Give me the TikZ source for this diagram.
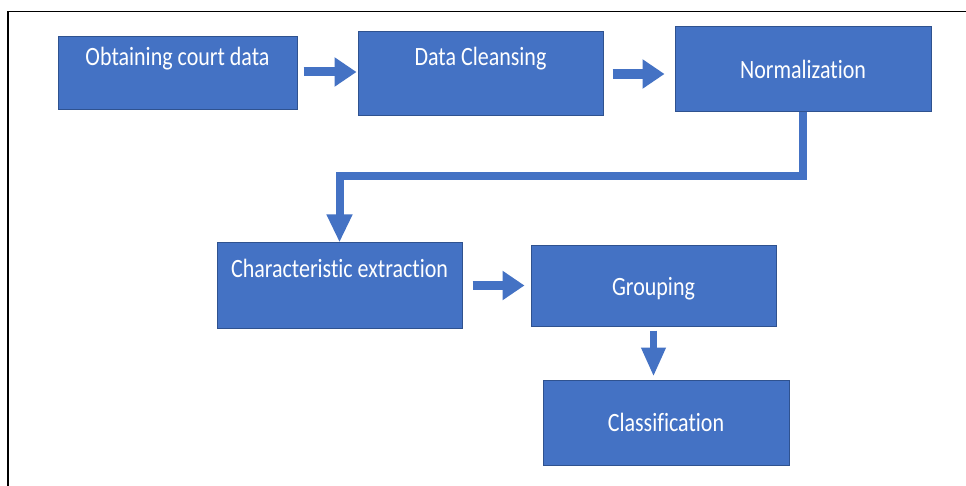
\documentclass[tikz,border=0pt]{standalone}
\usepackage{fontspec}
\setmainfont{Carlito}[Ligatures=NoCommon]
\usetikzlibrary{arrows.meta,calc}
\definecolor{boxblue}{HTML}{4472C4}
\definecolor{boxedge}{HTML}{2F528F}
\tikzset{
  stepbox/.style={draw=boxedge, line width=1pt, fill=boxblue, inner sep=0pt},
  txt/.style={anchor=base, text=white, inner sep=0pt, font=\fontsize{22}{26}\selectfont},
  frameline/.style={draw=black, line width=1.6pt},
  conn/.style={draw=boxblue, line cap=butt, line join=miter},
}
\newcommand{\tx}[1]{\scalebox{1}[1.2]{#1}}
\begin{document}
\begin{tikzpicture}[x=1pt,y=-1pt]
\useasboundingbox (0,0) rectangle (966,486);
\fill[white] (0,0) rectangle (966,486);
% frame
\draw[frameline] (8,486) -- (8,11.5) -- (966,11.5);
% boxes
\node[stepbox, minimum width=239pt, minimum height=73pt] (b1) at (177.5,73.5) {};
\node[stepbox, minimum width=245pt, minimum height=84pt] (b2) at (480.5,74) {};
\node[stepbox, minimum width=256pt, minimum height=85pt] (b3) at (803,69.5) {};
\node[stepbox, minimum width=245pt, minimum height=85pt] (b4) at (339.5,285.5) {};
\node[stepbox, minimum width=245pt, minimum height=80pt] (b5) at (653.5,286) {};
\node[stepbox, minimum width=246pt, minimum height=85pt] (b6) at (666,422.5) {};
% texts
\node[txt] (t1) at ($(b1.center)+(0,-7.5)$) {\tx{Obtaining court data}};
\node[txt] (t2) at ($(b2.center)+(0,-8)$) {\tx{Data Cleansing}};
\node[txt] (t3) at ($(b3.center)+(0,9.5)$) {\tx{Normalization}};
\node[txt] (t4) at ($(b4.center)+(0,-7.5)$) {\tx{Characteristic extraction}};
\node[txt] (t5) at ($(b5.center)+(0,9)$) {\tx{Grouping}};
\node[txt] (t6) at ($(b6.center)+(0,8.5)$) {\tx{Classification}};
% arrows
\draw[conn, line width=9pt, -{Triangle[width=28pt,length=22pt]}, shorten <=6pt, shorten >=1pt]
  ($(b1.east)+(0,-1.5)$) -- ($(b2.west |- b1.east)+(0,-1.5)$);
\draw[conn, line width=10pt, -{Triangle[width=28pt,length=22pt]}, shorten <=9pt, shorten >=10pt]
  (b2.east) -- (b2.east -| b3.west);
\coordinate (mid) at ($(b4.north)+(0,-66)$);
\draw[conn, line width=8pt, -{Triangle[width=24pt,length=28pt]}]
  (b3.south) |- (mid) -- (b4.north);
\draw[conn, line width=9pt, -{Triangle[width=28pt,length=22pt]}, shorten <=10pt, shorten >=6pt]
  (b4.east) -- (b4.east -| b5.west);
\draw[conn, line width=7pt, -{Triangle[width=23pt,length=29pt]}, shorten <=4pt, shorten >=3pt]
  (b5.south) -- (b5.south |- b6.north);
\end{tikzpicture}
\end{document}
